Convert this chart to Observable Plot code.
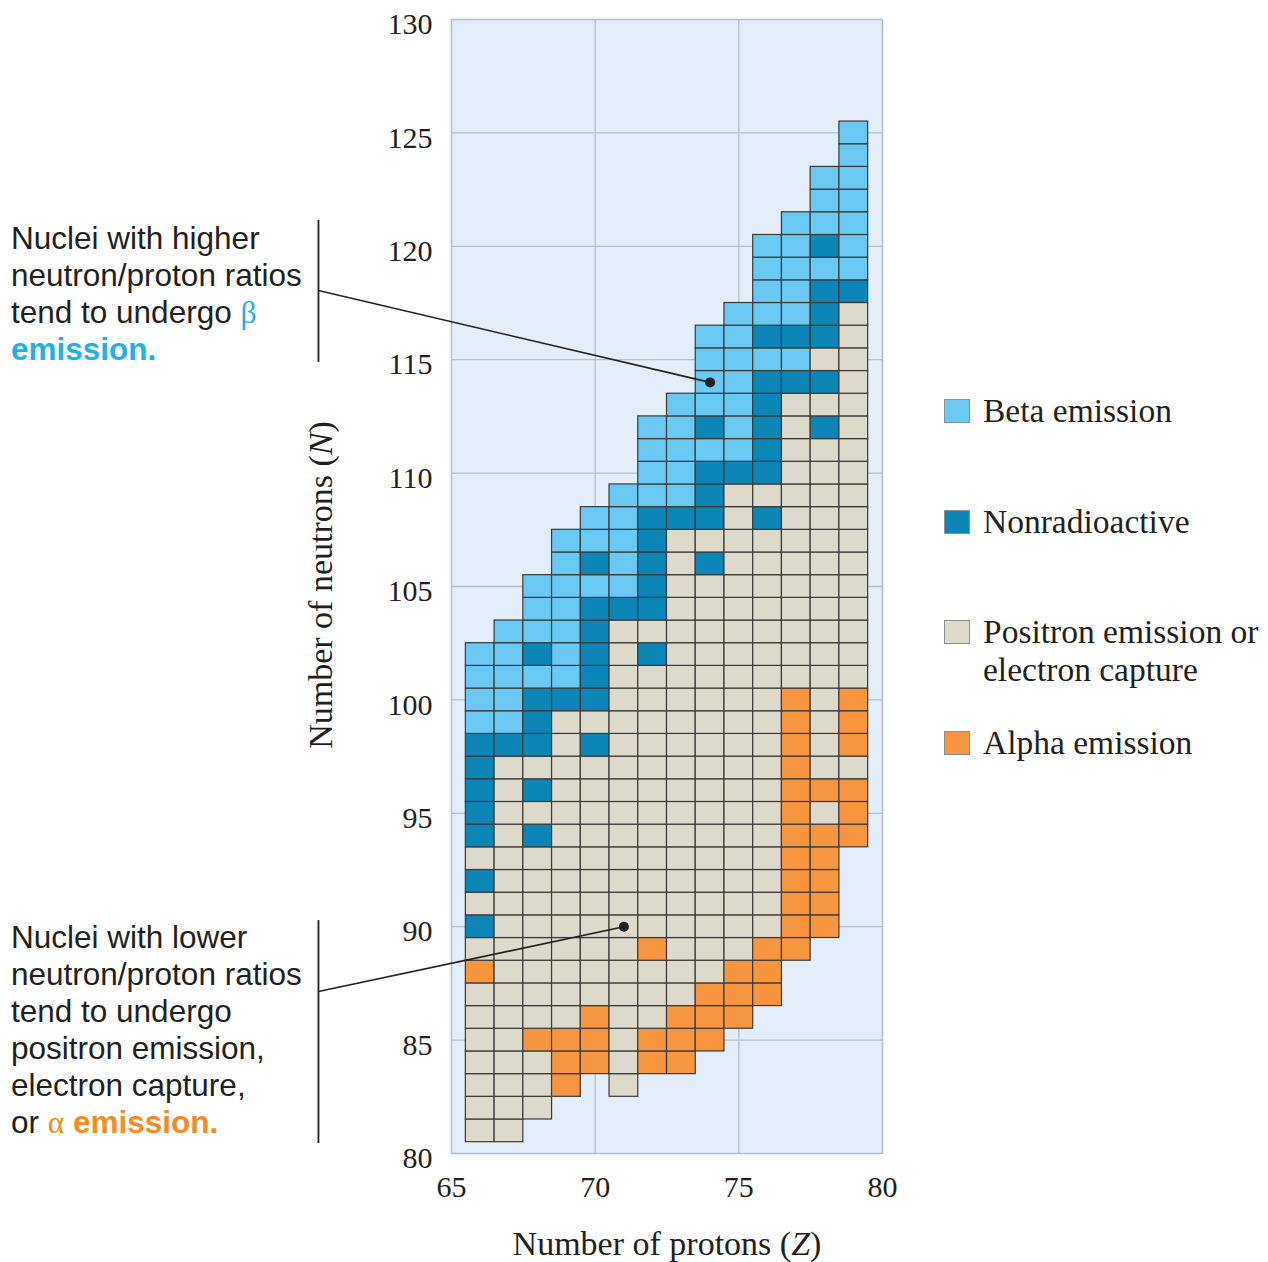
<!DOCTYPE html>
<html>
<head>
<meta charset="utf-8">
<script src="https://cdn.jsdelivr.net/npm/d3@7"></script>
<script src="https://cdn.jsdelivr.net/npm/@observablehq/plot@0.6"></script>
<style>
html, body { margin: 0; padding: 0; background: #ffffff; }
#wrap { position: relative; width: 1268px; height: 1262px; overflow: hidden; }
#wrap svg { position: absolute; left: 0; top: 0; }
.note { position: absolute; left: 11px; font-family: "Liberation Sans", Arial, sans-serif; font-size: 31.5px; line-height: 37px; color: #231f20; white-space: nowrap; }
.greek { font-family: "Liberation Serif", serif; }
.blue { color: #1fb0e6; }
.orange { color: #f68b21; }
.title { position: absolute; font-family: "Liberation Serif", serif; font-size: 34px; line-height: 34px; color: #231f20; white-space: nowrap; }
.leg-sq { position: absolute; left: 944px; width: 26px; height: 24px; box-sizing: border-box; border: 1px solid #8a8f94; }
.leg-tx { position: absolute; left: 983px; font-family: "Liberation Serif", serif; font-size: 33.5px; line-height: 38px; color: #231f20; white-space: nowrap; }
</style>
</head>
<body>
<div id="wrap"></div>
<script>
// ---- data ----
const protons = [66, 67, 68, 69, 70, 71, 72, 73, 74, 75, 76, 77, 78, 79];
// lowest neutron number drawn in each proton column
const nMin = [81, 81, 82, 83, 84, 83, 84, 84, 85, 86, 87, 89, 90, 94];
// runs of decay modes going up each column (count + code)
const runs = [
  "7P 1A 1P 1S 1P 1S 1P 5S 4B",
  "17P 1S 5B",
  "3P 1A 8P 1S 1P 1S 1P 3S 1B 1S 3B",
  "3A 14P 1S 7B",
  "3A 11P 1S 1P 5S 1B 1S 2B",
  "21P 1S 5B",
  "2A 3P 1A 12P 1S 1P 5S 4B",
  "3A 21P 1S 5B",
  "3A 18P 1S 1P 3S 1B 1S 4B",
  "3A 21P 1S 7B",
  "3A 18P 1S 1P 5S 1B 1S 4B",
  "12A 13P 1S 1B 1S 5B",
  "5A 1P 1A 15P 1S 1P 1S 1P 3S 1B 1S 3B",
  "3A 1P 3A 17P 1S 7B"
];
const codes = ["B", "S", "P", "A"];
const legendLabels = [["Beta emission"], ["Nonradioactive"], ["Positron emission or", "electron capture"], ["Alpha emission"]];
const colors = ["#6ac9f3", "#0b86b6", "#ddd9cb", "#f7963f"];
const xTicks = [65, 70, 75, 80];
const yTicks = [80, 85, 90, 95, 100, 105, 110, 115, 120, 125, 130];
// annotation pointers: dot (z, n) and the point on the bracket it comes from
const pointers = [
  {z: 74, n: 114, fromZ: 60.37, fromN: 118.05},
  {z: 71, n: 90, fromZ: 60.37, fromN: 87.14}
];
const brackets = [
  {z: 60.37, n1: 121.14, n2: 114.88},
  {z: 60.37, n1: 90.27, n2: 80.44}
];

// ---- build cells ----
const cells = [];
protons.forEach((z, i) => {
  let n = nMin[i];
  for (const run of runs[i].split(" ")) {
    const count = +run.slice(0, -1), code = run.slice(-1);
    for (let k = 0; k < count; k++) cells.push({z, n: n++, code});
  }
});

const ink = "#231f20";
const gridColor = "#b4bfcc";
const serif = "Liberation Serif";

const chart = Plot.plot({
  width: 1268,
  height: 1262,
  marginLeft: 451,
  marginRight: 386,
  marginTop: 19,
  marginBottom: 109,
  x: {domain: [65, 80], axis: null},
  y: {domain: [80, 130], axis: null},
  color: {domain: codes, range: colors},
  style: {background: "transparent", overflow: "visible"},
  marks: [
    Plot.frame({fill: "#e3eef9"}),
    Plot.ruleX(xTicks.filter(t => t > 65 && t < 80), {stroke: gridColor, strokeWidth: 1.3}),
    Plot.ruleY(yTicks.filter(t => t > 80 && t < 130), {stroke: gridColor, strokeWidth: 1.3}),
    Plot.rect(cells, {
      x1: d => d.z - 0.5, x2: d => d.z + 0.5,
      y1: d => d.n - 0.5, y2: d => d.n + 0.5,
      fill: "code", stroke: "#3a3a3a", strokeWidth: 1.2
    }),
    Plot.frame({stroke: gridColor, strokeWidth: 1.6}),
    Plot.ruleX(brackets, {x: "z", y1: "n1", y2: "n2", stroke: ink, strokeWidth: 1.8}),
    Plot.link(pointers, {x1: "fromZ", y1: "fromN", x2: "z", y2: "n", stroke: ink, strokeWidth: 1.6}),
    Plot.dot(pointers, {x: "z", y: "n", r: 5, fill: ink}),
    Plot.text(xTicks, {x: d => d, frameAnchor: "bottom", dy: 43, fontSize: 30, fontFamily: serif, fill: ink}),
    Plot.text(yTicks, {y: d => d, frameAnchor: "left", dx: -19, dy: 5, textAnchor: "end", fontSize: 30, fontFamily: serif, fill: ink})
  ]
});

const wrap = document.getElementById("wrap");
wrap.appendChild(chart);

function addDiv(cls, style, html) {
  const d = document.createElement("div");
  d.className = cls;
  Object.assign(d.style, style);
  d.innerHTML = html;
  wrap.appendChild(d);
  return d;
}

// annotations
addDiv("note", {top: "220px"},
  'Nuclei with higher<br>neutron/proton ratios<br>tend to undergo <span class="blue greek">β</span><br><b class="blue">emission.</b>');
addDiv("note", {top: "919px"},
  'Nuclei with lower<br>neutron/proton ratios<br>tend to undergo<br>positron emission,<br>electron capture,<br>or <span class="orange greek">α</span> <b class="orange">emission.</b>');

// axis titles
addDiv("title", {left: "667px", top: "1227px", transform: "translateX(-50%)"},
  'Number of protons (<i>Z</i>)');
addDiv("title", {left: "321px", top: "585px", transform: "translate(-50%, -50%) rotate(-90deg)"},
  'Number of neutrons (<i>N</i>)');

// legend
legendLabels.forEach((lines, i) => {
  const cy = 411 + i * 110.7;
  addDiv("leg-sq", {top: (cy - 12) + "px", background: colors[i]}, "");
  addDiv("leg-tx", {top: (cy - 19) + "px"}, lines.join("<br>"));
});
</script>
</body>
</html>
